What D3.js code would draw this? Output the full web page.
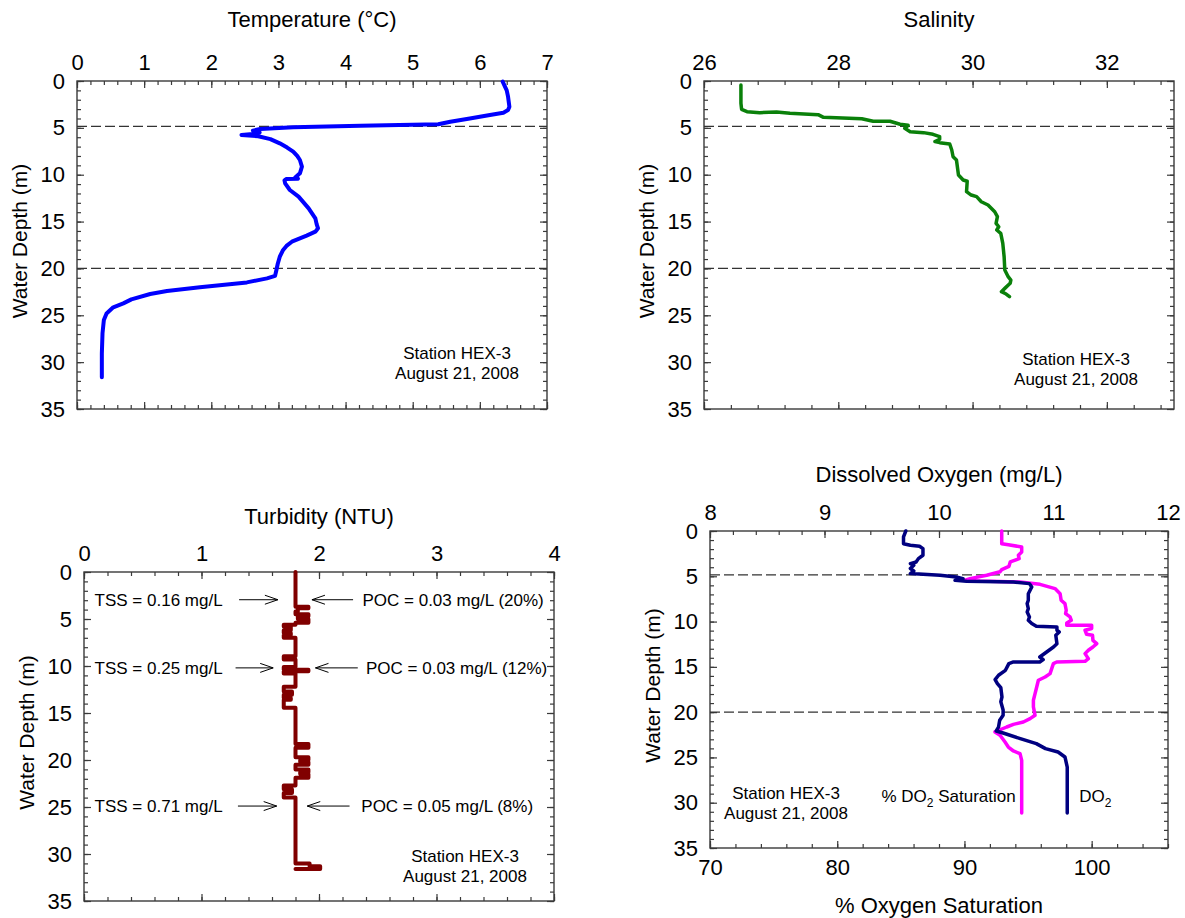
<!DOCTYPE html>
<html>
<head>
<meta charset="utf-8">
<script src="https://cdn.jsdelivr.net/npm/d3@7"></script>
<style>
  html, body { margin: 0; padding: 0; background: #fff; }
  svg { display: block; font-family: "Liberation Sans", Arial, sans-serif; }
</style>
</head>
<body>
<svg id="chart" width="1185" height="918"></svg>
<script>
// ---- Profile data: each entry is [depth (m), measured value] ----
const depthTickValues = [0, 5, 10, 15, 20, 25, 30, 35];
const layerDepths = [4.85, 20];
const temperatureTicks = [0, 1, 2, 3, 4, 5, 6, 7];
const salinityTicks = [26, 28, 30, 32];
const turbidityTicks = [0, 1, 2, 3, 4];
const oxygenTicks = [8, 9, 10, 11, 12];
const saturationTicks = [70, 80, 90, 100];
const stationLabel = ["Station HEX-3", "August 21, 2008"];

const temperatureProfile = [
  [0.07, 6.34], [1.0, 6.40], [1.67, 6.42], [2.74, 6.44], [3.1, 6.42], [3.38, 6.35], [3.63, 6.15],
  [4.0, 5.85], [4.34, 5.56], [4.62, 5.38], [4.77, 4.22], [4.94, 3.22], [5.12, 2.73], [5.3, 2.62],
  [5.5, 2.72], [5.62, 2.66], [5.76, 2.45], [5.9, 2.70], [6.2, 2.88], [6.65, 3.02], [7.1, 3.13],
  [7.54, 3.22], [8.0, 3.28], [8.43, 3.32], [9.14, 3.35], [9.85, 3.32], [10.3, 3.25], [10.42, 3.29],
  [10.45, 3.12], [10.6, 3.09], [10.92, 3.10], [11.63, 3.17], [12.34, 3.30], [13.0, 3.38],
  [13.59, 3.45], [14.66, 3.55], [15.3, 3.57], [15.72, 3.59], [16.08, 3.55], [16.5, 3.42],
  [17.15, 3.20], [17.6, 3.12], [18.03, 3.07], [18.75, 3.02], [19.5, 2.99], [20.17, 2.97],
  [20.8, 2.95], [21.06, 2.83], [21.49, 2.53], [22.02, 1.83], [22.41, 1.34], [22.73, 1.09],
  [23.3, 0.81], [23.73, 0.69], [24.15, 0.54], [24.8, 0.44], [25.5, 0.40], [26.9, 0.38],
  [29.06, 0.37], [31.6, 0.37]
];

const salinityProfile = [
  [0.43, 26.55], [2.38, 26.55], [3.02, 26.56], [3.27, 26.64], [3.38, 26.83], [3.31, 27.08],
  [3.45, 27.28], [3.59, 27.70], [3.88, 27.78], [4.02, 28.35], [4.30, 28.52], [4.30, 28.77],
  [4.62, 28.92], [4.73, 29.04], [5.05, 28.99], [5.41, 29.07], [5.51, 29.27], [5.69, 29.41],
  [5.94, 29.51], [6.22, 29.51], [6.47, 29.44], [6.58, 29.51], [6.72, 29.66], [7.36, 29.69],
  [8.08, 29.71], [8.43, 29.76], [10.03, 29.79], [10.56, 29.86], [10.7, 29.92], [11.81, 29.91],
  [12.17, 29.98], [12.34, 30.06], [12.88, 30.13], [13.23, 30.23], [13.95, 30.33], [14.48, 30.37],
  [15.19, 30.35], [15.55, 30.39], [15.9, 30.36], [16.26, 30.42], [17.32, 30.45], [18.75, 30.47],
  [20.17, 30.48], [20.88, 30.53], [21.24, 30.57], [21.59, 30.56], [22.13, 30.48], [22.48, 30.43],
  [22.73, 30.50], [23.01, 30.55]
];

const turbidityProfile = [
  [0, 1.80], [3.7, 1.80], [3.7, 1.91], [3.85, 1.91], [3.85, 1.82], [4.2, 1.82], [4.2, 1.80],
  [4.5, 1.80], [4.5, 1.91], [4.7, 1.91], [4.7, 1.82], [5.0, 1.82], [5.0, 1.91], [5.4, 1.91], [5.4, 1.80],
  [5.6, 1.80], [5.6, 1.70], [5.8, 1.70], [5.8, 1.76], [6.2, 1.76], [6.2, 1.70], [6.5, 1.70],
  [6.5, 1.76], [6.7, 1.76], [6.7, 1.70], [7.0, 1.70], [7.0, 1.80],
  [8.95, 1.80], [8.95, 1.70], [9.3, 1.70], [9.3, 1.80],
  [10.1, 1.80], [10.1, 1.70], [10.4, 1.70], [10.4, 1.91], [10.55, 1.91], [10.55, 1.70],
  [10.8, 1.70], [10.8, 1.80],
  [12.2, 1.80], [12.2, 1.70], [12.7, 1.70], [12.7, 1.77], [13.05, 1.77], [13.05, 1.70],
  [13.4, 1.70], [13.4, 1.76], [13.6, 1.76], [13.6, 1.70], [14.45, 1.70], [14.45, 1.80],
  [18.3, 1.80], [18.3, 1.91], [18.7, 1.91], [18.7, 1.80],
  [19.7, 1.80], [19.7, 1.91], [20.0, 1.91], [20.0, 1.84], [20.2, 1.84], [20.2, 1.91], [20.5, 1.91], [20.5, 1.80],
  [21.0, 1.80], [21.0, 1.91], [21.3, 1.91], [21.3, 1.84], [21.5, 1.84], [21.5, 1.91], [21.9, 1.91], [21.9, 1.80],
  [22.7, 1.80], [22.7, 1.70], [23.1, 1.70], [23.1, 1.77], [23.5, 1.77], [23.5, 1.70], [24.0, 1.70], [24.0, 1.80],
  [31.0, 1.80], [31.0, 1.92], [31.3, 1.92], [31.3, 2.01], [31.6, 2.01], [31.6, 1.80]
];

const oxygenProfile = [
  [0, 9.71], [0.66, 9.69], [1.4, 9.69], [1.58, 9.75], [1.69, 9.83], [1.95, 9.86], [2.68, 9.86],
  [3.05, 9.82], [3.42, 9.80], [3.6, 9.75], [3.78, 9.78], [4.15, 9.75], [4.41, 9.78], [4.7, 9.75],
  [4.89, 10.01], [5.08, 10.15], [5.26, 10.21], [5.45, 10.14], [5.55, 10.24], [5.63, 10.65],
  [5.81, 10.79], [6.18, 10.81], [6.92, 10.78], [7.65, 10.78], [8.02, 10.77], [8.57, 10.78],
  [8.94, 10.77], [9.49, 10.79], [9.86, 10.78], [10.22, 10.81], [10.52, 10.85], [10.6, 11.03],
  [10.96, 11.03], [11.15, 11.05], [11.52, 11.02], [12.44, 11.03], [12.81, 11.00], [13.36, 10.94],
  [13.91, 10.88], [14.2, 10.91], [14.46, 10.88], [14.46, 10.65], [14.64, 10.61], [15.38, 10.58],
  [15.93, 10.52], [16.41, 10.49], [16.85, 10.51], [17.3, 10.54], [18.33, 10.55], [18.85, 10.54],
  [19.77, 10.56], [20.35, 10.56], [20.9, 10.53], [21.64, 10.52], [22.08, 10.50], [22.3, 10.56],
  [22.93, 10.71], [23.48, 10.85], [24.03, 10.93], [24.4, 11.04], [24.95, 11.10], [26.06, 11.12],
  [31.13, 11.12]
];

const saturationProfile = [
  [0, 92.93], [1.4, 92.93], [1.51, 93.45], [1.77, 94.5], [2.32, 94.5], [2.68, 94.24], [3.05, 94.3],
  [3.42, 93.6], [3.9, 93.5], [4.26, 92.93], [4.5, 92.8], [4.89, 91.75], [5.26, 90.44], [5.44, 90.05],
  [5.52, 91.23], [5.63, 94.37], [5.89, 95.94], [6.36, 97.12], [6.92, 97.52], [7.65, 97.6],
  [8.02, 97.9], [8.75, 98.0], [9.12, 97.95], [9.49, 98.3], [9.86, 98.4], [10.15, 98.04],
  [10.4, 98.04], [10.4, 100.0], [10.77, 100.0], [10.96, 99.48], [11.4, 99.6], [11.52, 100.07],
  [12.07, 100.1], [12.44, 100.4], [12.81, 100.1], [13.17, 99.74], [13.54, 99.48], [14.09, 99.74],
  [14.39, 99.48], [14.46, 97.25], [14.64, 96.99], [15.75, 96.73], [16.12, 96.34], [16.48, 95.81],
  [17.22, 95.68], [17.95, 95.55], [18.69, 95.42], [19.42, 95.42], [20.35, 95.55], [20.72, 95.16],
  [21.09, 94.63], [21.35, 93.85], [21.64, 93.32], [22.19, 92.4], [22.56, 92.8], [23.3, 93.19],
  [23.85, 93.45], [24.29, 93.85], [24.58, 94.37], [25.32, 94.5], [31.13, 94.5]
];

const sampleNotes = [
  { depth: 2.95, tss: "TSS = 0.16 mg/L", poc: "POC = 0.03 mg/L (20%)" },
  { depth: 10.2, tss: "TSS = 0.25 mg/L", poc: "POC = 0.03 mg/L (12%)" },
  { depth: 24.9, tss: "TSS = 0.71 mg/L", poc: "POC = 0.05 mg/L (8%)" }
];

// ---- Layout (pixel frames of the four plots) ----
const frames = {
  temp: { x0: 77, x1: 547, y0: 81, y1: 409, titleGap: 54 },
  sal:  { x0: 704, x1: 1174, y0: 81, y1: 409, titleGap: 54 },
  turb: { x0: 84, x1: 554, y0: 572, y1: 901, titleGap: 48 },
  oxy:  { x0: 710, x1: 1168, y0: 531, y1: 848, titleGap: 49 }
};
// arrow spans and text anchors for the sample notes, in NTU units
const noteLayout = [
  { tssText: 0.09, tssArrow: [1.32, 1.65], pocArrow: [2.29, 1.94], pocText: 2.37 },
  { tssText: 0.09, tssArrow: [1.29, 1.61], pocArrow: [2.33, 1.97], pocText: 2.40 },
  { tssText: 0.09, tssArrow: [1.31, 1.64], pocArrow: [2.26, 1.90], pocText: 2.36 }
];

const FRAME_COLOR = "#3a3a3a";
const TICK_FONT = 22;
const svg = d3.select("#chart");

function range(a, b, step) {
  const out = [];
  for (let v = a; v <= b + 1e-9; v += step) out.push(+v.toFixed(4));
  return out;
}

function styleAxis(g, fontSize) {
  g.select(".domain").remove();
  g.selectAll(".tick line").attr("stroke", FRAME_COLOR).attr("stroke-width", 1.2);
  g.selectAll(".tick text").attr("fill", "#000")
    .style("font-size", fontSize + "px")
    .style("font-family", "'Liberation Sans', Arial, sans-serif");
}

// Draws a framed plot with inward ticks on all four sides and returns its scales
function buildPanel(f, opts) {
  const g = svg.append("g");
  const x = d3.scaleLinear().domain(opts.xDomain).range([f.x0, f.x1]);
  const y = d3.scaleLinear().domain([0, 35]).range([f.y0, f.y1]);

  const xMinor = range(opts.xDomain[0], opts.xDomain[1], opts.xMinor);
  const xMajor = opts.xTicks;
  const yMinor = range(0, 35, 1);

  // top axis
  g.append("g").attr("transform", `translate(0,${f.y0})`)
    .call(d3.axisTop(x).tickValues(xMinor).tickSize(-4).tickFormat(""))
    .call(a => styleAxis(a, TICK_FONT));
  g.append("g").attr("transform", `translate(0,${f.y0})`)
    .call(d3.axisTop(x).tickValues(xMajor).tickSize(-7).tickPadding(11)
      .tickFormat(opts.topLabels ? d3.format("d") : ""))
    .call(a => styleAxis(a, TICK_FONT));

  // bottom axis (second scale if supplied)
  const xb = opts.bottomScale || x;
  const bMinor = opts.bottomScale ? range(opts.bottomDomain[0], opts.bottomDomain[1], opts.bottomMinor) : xMinor;
  const bMajor = opts.bottomScale ? opts.bottomTicks : xMajor;
  g.append("g").attr("transform", `translate(0,${f.y1})`)
    .call(d3.axisBottom(xb).tickValues(bMinor).tickSize(-4).tickFormat(""))
    .call(a => styleAxis(a, TICK_FONT));
  g.append("g").attr("transform", `translate(0,${f.y1})`)
    .call(d3.axisBottom(xb).tickValues(bMajor).tickSize(-7).tickPadding(11)
      .tickFormat(opts.bottomScale ? d3.format("d") : ""))
    .call(a => styleAxis(a, TICK_FONT));

  // left axis
  g.append("g").attr("transform", `translate(${f.x0},0)`)
    .call(d3.axisLeft(y).tickValues(yMinor).tickSize(-4).tickFormat(""))
    .call(a => styleAxis(a, TICK_FONT));
  g.append("g").attr("transform", `translate(${f.x0},0)`)
    .call(d3.axisLeft(y).tickValues(depthTickValues).tickSize(-7).tickPadding(12).tickFormat(d3.format("d")))
    .call(a => styleAxis(a, TICK_FONT));

  // right axis
  g.append("g").attr("transform", `translate(${f.x1},0)`)
    .call(d3.axisRight(y).tickValues(yMinor).tickSize(-4).tickFormat(""))
    .call(a => styleAxis(a, TICK_FONT));
  g.append("g").attr("transform", `translate(${f.x1},0)`)
    .call(d3.axisRight(y).tickValues(depthTickValues).tickSize(-7).tickFormat(""))
    .call(a => styleAxis(a, TICK_FONT));

  // frame
  g.append("rect")
    .attr("x", f.x0).attr("y", f.y0)
    .attr("width", f.x1 - f.x0).attr("height", f.y1 - f.y0)
    .attr("fill", "none").attr("stroke", FRAME_COLOR).attr("stroke-width", 1.4);

  // title above the top axis
  g.append("text")
    .attr("x", (f.x0 + f.x1) / 2).attr("y", f.y0 - f.titleGap)
    .attr("text-anchor", "middle").style("font-size", "22px")
    .text(opts.title);

  // depth label
  g.append("text")
    .attr("transform", `translate(${f.x0 - 50},${(f.y0 + f.y1) / 2 - 4}) rotate(-90)`)
    .attr("text-anchor", "middle").style("font-size", "21px")
    .text("Water Depth (m)");

  // mixed-layer boundaries
  if (opts.layers) {
    g.selectAll(".layer").data(layerDepths).enter().append("line")
      .attr("x1", f.x0).attr("x2", f.x1)
      .attr("y1", d => y(d)).attr("y2", d => y(d))
      .attr("stroke", "#333").attr("stroke-width", 1.2)
      .attr("stroke-dasharray", "10,4");
  }

  // station label
  const st = g.append("text").attr("text-anchor", "middle").style("font-size", "17px");
  st.selectAll("tspan").data(stationLabel).enter().append("tspan")
    .attr("x", opts.station[0]).attr("y", (d, i) => opts.station[1] + i * 20)
    .text(d => d);

  return { g, x, y };
}

function drawProfile(p, data, scale, color, width) {
  const line = d3.line()
    .x(d => scale(d[1]))
    .y(d => p.y(d[0]))
    .curve(d3.curveLinear);
  p.g.append("path").datum(data)
    .attr("d", line)
    .attr("fill", "none")
    .attr("stroke", color)
    .attr("stroke-width", width)
    .attr("stroke-linejoin", "round")
    .attr("stroke-linecap", "round");
}

// ---- Temperature ----
const pT = buildPanel(frames.temp, {
  xDomain: [0, 7], xTicks: temperatureTicks, xMinor: 0.2, topLabels: true,
  title: "Temperature (\u00B0C)", layers: true, station: [457, 359]
});
drawProfile(pT, temperatureProfile, pT.x, "#0000ff", 4);

// ---- Salinity ----
const pS = buildPanel(frames.sal, {
  xDomain: [26, 33], xTicks: salinityTicks, xMinor: 0.4, topLabels: true,
  title: "Salinity", layers: true, station: [1076, 365]
});
drawProfile(pS, salinityProfile, pS.x, "#0a800a", 3.5);

// ---- Turbidity ----
const pN = buildPanel(frames.turb, {
  xDomain: [0, 4], xTicks: turbidityTicks, xMinor: 0.2, topLabels: true,
  title: "Turbidity (NTU)", layers: false, station: [465, 862]
});
drawProfile(pN, turbidityProfile, pN.x, "#800000", 4);

// sample annotations with open arrowheads
function arrow(g, xFrom, xTo, yv) {
  const dir = Math.sign(xTo - xFrom);
  g.append("line").attr("x1", xFrom).attr("x2", xTo).attr("y1", yv).attr("y2", yv)
    .attr("stroke", "#000").attr("stroke-width", 1);
  g.append("path")
    .attr("d", `M${xTo - dir * 13},${yv - 4.5} L${xTo},${yv} L${xTo - dir * 13},${yv + 4.5}`)
    .attr("fill", "none").attr("stroke", "#000").attr("stroke-width", 1);
}
sampleNotes.forEach((n, i) => {
  const L = noteLayout[i];
  const yv = pN.y(n.depth);
  pN.g.append("text").attr("x", pN.x(L.tssText)).attr("y", yv + 6)
    .style("font-size", "17px").text(n.tss);
  arrow(pN.g, pN.x(L.tssArrow[0]), pN.x(L.tssArrow[1]), yv);
  arrow(pN.g, pN.x(L.pocArrow[0]), pN.x(L.pocArrow[1]), yv);
  pN.g.append("text").attr("x", pN.x(L.pocText)).attr("y", yv + 6)
    .style("font-size", "17px").text(n.poc);
});

// ---- Dissolved oxygen (top axis mg/L, bottom axis % saturation) ----
const satScale = d3.scaleLinear().domain([70, 106]).range([frames.oxy.x0, frames.oxy.x1]);
const pO = buildPanel(frames.oxy, {
  xDomain: [8, 12], xTicks: oxygenTicks, xMinor: 0.2, topLabels: true,
  title: "Dissolved Oxygen (mg/L)", layers: true, station: [786, 799],
  bottomScale: satScale, bottomDomain: [70, 106], bottomTicks: saturationTicks, bottomMinor: 2
});
drawProfile(pO, saturationProfile, satScale, "#ff00ff", 3.5);
drawProfile(pO, oxygenProfile, pO.x, "#000080", 3.5);

pO.g.append("text")
  .attr("x", (frames.oxy.x0 + frames.oxy.x1) / 2).attr("y", frames.oxy.y1 + 65)
  .attr("text-anchor", "middle").style("font-size", "22px")
  .text("% Oxygen Saturation");

// series labels
const satLabel = pO.g.append("text")
  .attr("x", satScale(94.5) - 6).attr("y", pO.y(29.3) + 6)
  .attr("text-anchor", "end").style("font-size", "17px");
satLabel.append("tspan").text("% DO");
satLabel.append("tspan").attr("dy", 5).style("font-size", "12px").text("2");
satLabel.append("tspan").attr("dy", -5).text(" Saturation");

const doLabel = pO.g.append("text")
  .attr("x", pO.x(11.12) + 12).attr("y", pO.y(29.3) + 6)
  .style("font-size", "17px");
doLabel.append("tspan").text("DO");
doLabel.append("tspan").attr("dy", 5).style("font-size", "12px").text("2");
</script>
</body>
</html>
